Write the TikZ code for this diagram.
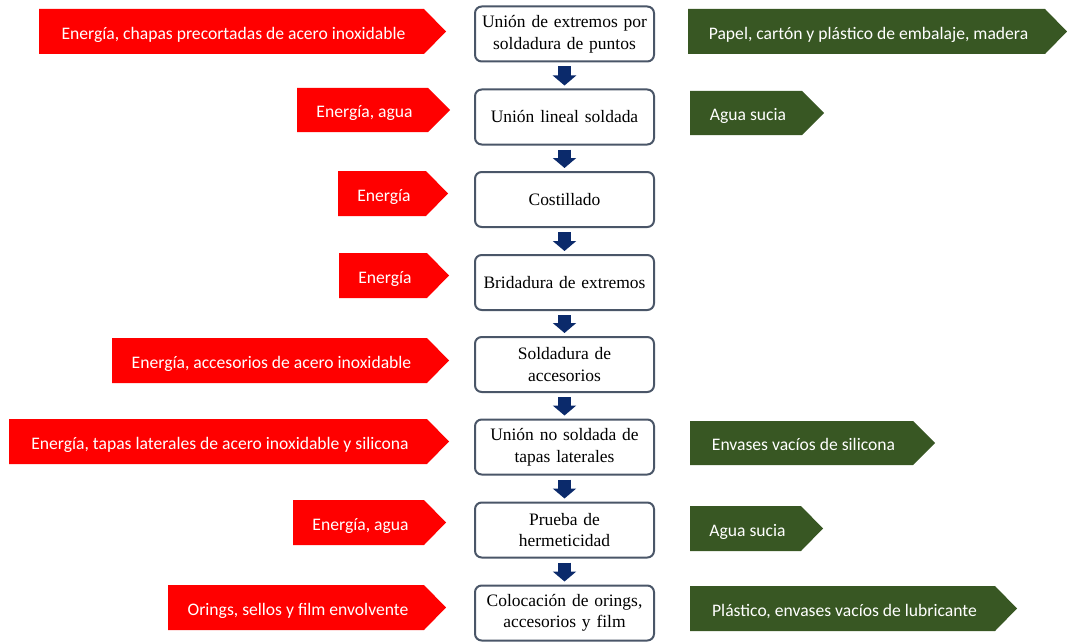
\documentclass[tikz,border=0pt]{standalone}
\usepackage{fontspec}
\setmainfont{Liberation Serif}
\newfontfamily\calib{Carlito}
\usetikzlibrary{arrows.meta}
\definecolor{redc}{HTML}{FF0000}
\definecolor{greenc}{HTML}{385723}
\definecolor{navyc}{HTML}{0B2A6B}
\definecolor{boxline}{HTML}{4A5668}
\tikzset{
  procbox/.style={draw=boxline, line width=1.5pt, rounded corners=5pt, fill=white,
    minimum width=179*0.75pt, minimum height=55*0.75pt, text width=175*0.75pt,
    align=center, font=\fontsize{13.1}{16.2}\selectfont, inner sep=0pt},
  arrtext/.style={text=white, font=\calib\fontsize{13.2}{15}\selectfont, inner sep=0pt,
    text height=0.68em, text depth=0.2em},
  flow/.style={navyc, line width=13*0.75pt, -{Triangle[width=23*0.75pt, length=10*0.75pt]},
    shorten <=4*0.75pt, shorten >=3*0.75pt}
}
\newcommand\flowarr[7]{% name, xl, xtip, ytop, ybot, text, color
  \fill[#7] (#2,#4) -- ({#3-22},#4) -- (#3,{(#4+#5)/2}) -- ({#3-22},#5) -- (#2,#5) -- cycle;
  \node[arrtext] (#1) at ({(#2+#3-22)/2+2},{(#4+#5)/2+4.5}) {#6};}
\begin{document}
\begin{tikzpicture}[x=0.75pt,y=-0.75pt]
\useasboundingbox (0,0) rectangle (1067,642);
% process boxes
\node[procbox] (b1) at (564.5,34) {Unión de extremos por\\soldadura de puntos};
\node[procbox] (b2) at (564.5,117) {Unión lineal soldada};
\node[procbox] (b3) at (564.5,199.5) {Costillado};
\node[procbox] (b4) at (564.5,282.5) {Bridadura de extremos};
\node[procbox] (b5) at (564.5,364.5) {Soldadura de\\accesorios};
\node[procbox] (b6) at (564.5,447) {Unión no soldada de\\tapas laterales};
\node[procbox] (b7) at (564.5,530) {Prueba de\\hermeticidad};
\node[procbox] (b8) at (564.5,613) {Colocación de orings,\\accesorios y film};
\foreach \a/\b in {b1/b2,b2/b3,b3/b4,b4/b5,b5/b6,b6/b7,b7/b8}
  \draw[flow] (\a.south) -- (\b.north);
% inputs
\flowarr{i1}{39}{446}{9}{54}{Energía, chapas precortadas de acero inoxidable}{redc}
\flowarr{i2}{297}{450}{88}{132}{Energía, agua}{redc}
\flowarr{i3}{338}{448}{171}{216}{Energía}{redc}
\flowarr{i4}{339}{449}{253}{298}{Energía}{redc}
\flowarr{i5}{112}{449}{338}{383}{Energía, accesorios de acero inoxidable}{redc}
\flowarr{i6}{9}{449}{419}{464}{Energía, tapas laterales de acero inoxidable y silicona}{redc}
\flowarr{i7}{293}{446}{500}{545}{Energía, agua}{redc}
\flowarr{i8}{168}{446}{585}{630}{Orings, sellos y film envolvente}{redc}
% outputs
\flowarr{o1}{688}{1067}{9}{54}{Papel, cartón y plástico de embalaje, madera}{greenc}
\flowarr{o2}{690}{824}{91}{135}{Agua sucia}{greenc}
\flowarr{o3}{690}{935}{421}{465}{Envases vacíos de silicona}{greenc}
\flowarr{o4}{690}{823}{506}{551}{Agua sucia}{greenc}
\flowarr{o5}{690}{1017}{586}{631}{Plástico, envases vacíos de lubricante}{greenc}
\end{tikzpicture}
\end{document}
